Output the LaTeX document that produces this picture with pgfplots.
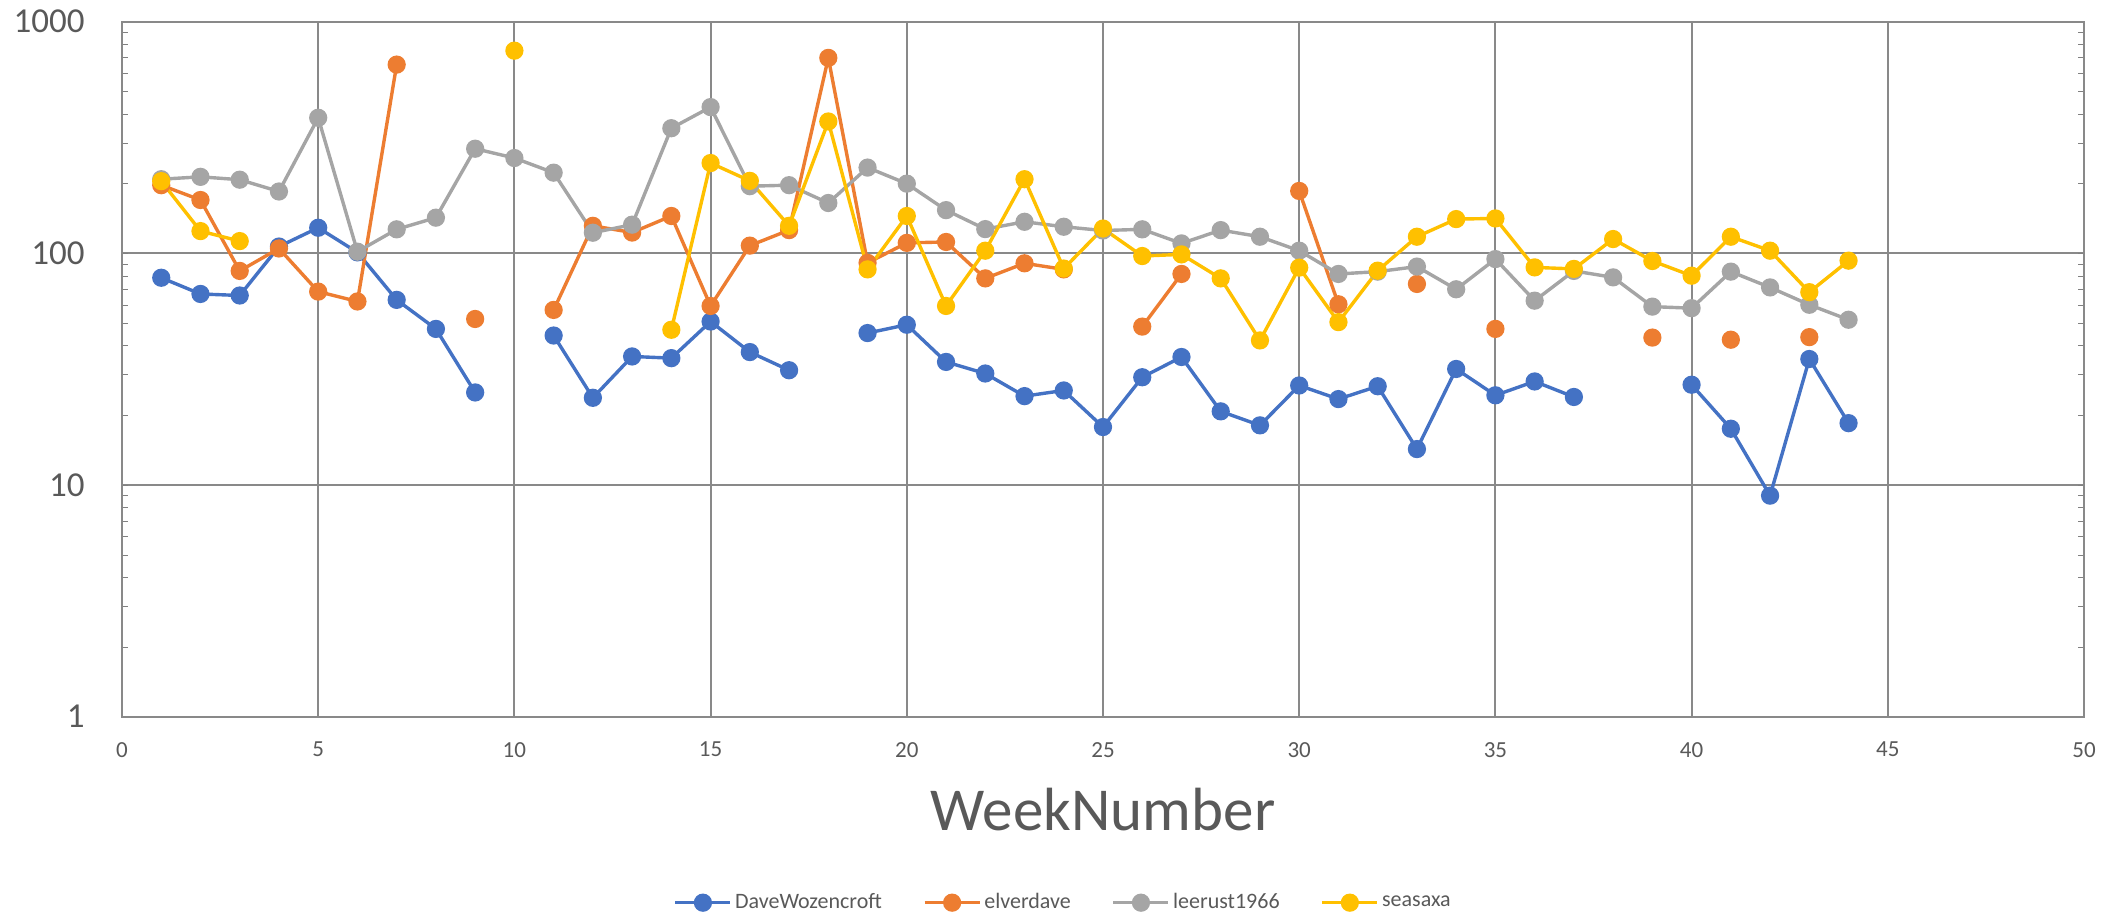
\documentclass[border=0pt]{standalone}
\usepackage{fontspec}
\setmainfont{Carlito}
\usepackage{pgfplots}
\pgfplotsset{compat=1.18}

\definecolor{cblue}{HTML}{4472C4}
\definecolor{corange}{HTML}{ED7D31}
\definecolor{cgray}{HTML}{A5A5A5}
\definecolor{cyellow}{HTML}{FFC000}
\definecolor{gridc}{HTML}{898989}
\definecolor{textc}{HTML}{595959}

\begin{document}
\begin{tikzpicture}
\path[use as bounding box] (-61pt,-99.65pt) rectangle (998.5pt,358.35pt);
\begin{axis}[
  at={(0,0)}, anchor=south west,
  scale only axis, width=981pt, height=347.5pt,
  xmin=0, xmax=50, ymode=log, ymin=1, ymax=1000,
  xtick={0,5,10,15,20,25,30,35,40,45,50},
  xticklabels={0,5,10,15,20,25,30,35,40,45,50},
  ytick={1,10,100,1000},
  yticklabels={1,10,100,1000},
  major tick length=0pt, minor tick num=0,
  grid=major, grid style={gridc, line width=1pt},
  axis line style={gridc, line width=1pt},
  xticklabel style={font=\fontsize{11.5}{13}\selectfont, text=textc, inner sep=0pt, yshift=-12.5pt},
  yticklabel style={font=\fontsize{17.5}{20}\selectfont, text=textc, inner sep=0pt, xshift=-18.5pt},
  xlabel={WeekNumber},
  xlabel style={at={(axis description cs:0.5,0)}, anchor=base, yshift=-57pt,
    font=\fontsize{30.5}{36}\selectfont, text=textc},
  unbounded coords=jump,
  every axis plot/.append style={line width=1.7pt, mark=*, mark size=3.7pt, mark options={draw=none}},
  legend columns=4,
  legend style={at={(0.48,-0.2676)}, anchor=center, draw=none, fill=none,
    font=\fontsize{11}{13}\selectfont, text=textc,
    /tikz/every even column/.append style={column sep=19pt},
    nodes={inner sep=1.5pt}},
  legend image code/.code={\draw[mark repeat=2, mark phase=2] plot coordinates {(0pt,0pt) (13.75pt,0pt) (27.5pt,0pt)};},
]
% DaveWozencroft
\addplot[color=cblue] coordinates {
(1,78.5) (2,66.8) (3,65.8) (4,107) (5,129) (6,101) (7,63) (8,47.2) (9,25.1) (10,nan)
(11,44.2) (12,23.8) (13,35.9) (14,35.3) (15,50.8) (16,37.5) (17,31.3) (18,nan)
(19,45.3) (20,49.2) (21,34) (22,30.3) (23,24.2) (24,25.6) (25,17.8) (26,29.2)
(27,35.7) (28,20.8) (29,18.1) (30,26.9) (31,23.5) (32,26.7) (33,14.3) (34,31.7)
(35,24.4) (36,28) (37,24) (38,nan) (39,nan) (40,27.1) (41,17.5) (42,9.0) (43,35) (44,18.5)
};
\addlegendentry{DaveWozencroft}
% elverdave
\addplot[color=corange] coordinates {
(1,197) (2,170) (3,84) (4,105) (5,68.4) (6,62) (7,653) (8,nan) (9,52.1) (10,nan)
(11,57) (12,131.5) (13,123) (14,145) (15,59.3) (16,108) (17,126) (18,698) (19,91)
(20,111) (21,112) (22,78) (23,90.6) (24,85.3) (25,nan) (26,48.3) (27,81.5) (28,nan)
(29,nan) (30,186) (31,60.3) (32,nan) (33,73.8) (34,nan) (35,47.2) (36,nan) (37,nan)
(38,nan) (39,43.3) (40,nan) (41,42.4) (42,nan) (43,43.5)
};
\addlegendentry{elverdave}
% leerust1966
\addplot[color=cgray] coordinates {
(1,209) (2,214) (3,208) (4,185) (5,385) (6,101.7) (7,127) (8,142.6) (9,283) (10,258)
(11,223) (12,122.8) (13,133) (14,347) (15,428) (16,195) (17,197) (18,165) (19,234.6)
(20,200) (21,153.7) (22,127.3) (23,136.9) (24,130.3) (25,125.5) (26,127) (27,110.4)
(28,126) (29,118) (30,102.7) (31,81.5) (32,83.4) (33,87.7) (34,70) (35,94.5) (36,62.5)
(37,84) (38,78.8) (39,58.9) (40,58) (41,83.4) (42,71.3) (43,60) (44,51.7)
};
\addlegendentry{leerust1966}
% seasaxa
\addplot[color=cyellow] coordinates {
(1,205) (2,124.8) (3,113) (4,nan) (9,nan) (10,750) (11,nan) (13,nan)
(14,46.8) (15,245.5) (16,205.6) (17,131.5) (18,371) (19,85.3) (20,145) (21,59.3)
(22,102.7) (23,209) (24,86) (25,128) (26,97.4) (27,99) (28,78) (29,42.1) (30,86.8)
(31,50.5) (32,84.2) (33,118) (34,140.6) (35,141.5) (36,87) (37,85.7) (38,115.3)
(39,92.7) (40,80.1) (41,118) (42,102.7) (43,68) (44,93)
};
\addlegendentry{seasaxa}
\end{axis}
\end{tikzpicture}
\end{document}
